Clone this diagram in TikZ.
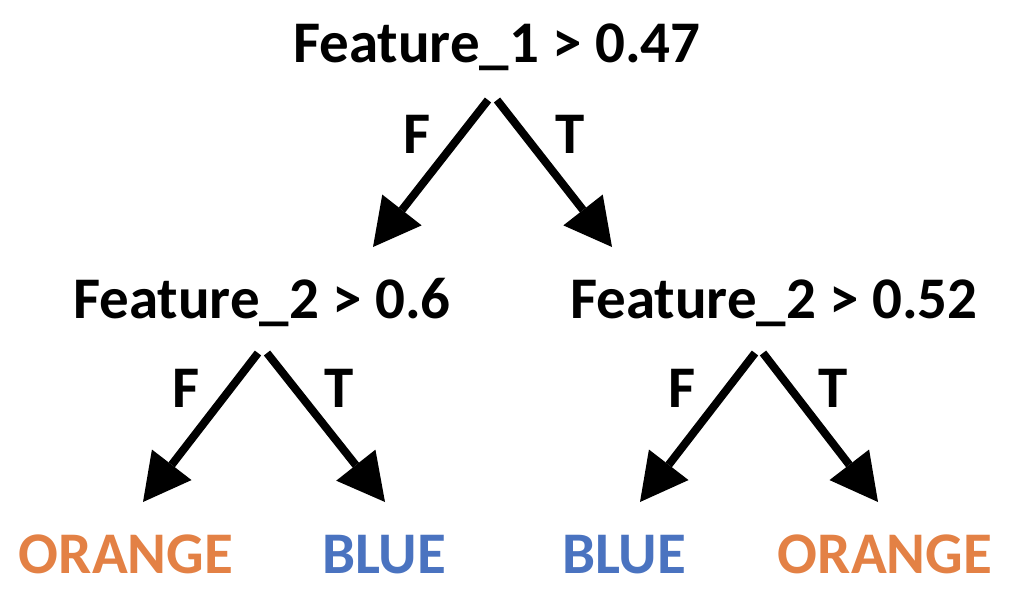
\documentclass[tikz,border=0pt]{standalone}
\usepackage{fontspec}
\setmainfont{Carlito}
\usetikzlibrary{arrows.meta}
\definecolor{leaforange}{HTML}{E38145}
\definecolor{leafblue}{HTML}{4A73C0}
\begin{document}
\begin{tikzpicture}[x=1pt,y=-1pt,
  lbl/.style={inner sep=0pt,anchor=base,font=\fontsize{59}{70}\selectfont\bfseries},
  edge/.style={line width=8pt,-{Triangle[length=47pt,width=50pt,line width=0pt]}},
  orangeleaf/.style={lbl,text=leaforange},
  blueleaf/.style={lbl,text=leafblue}]
\useasboundingbox (0,0) rectangle (1022,600);
% nodes
\node[lbl] (root) at (497,62) {Feature\_1 > 0.47};
\node[lbl] (n1) at (262,318) {Feature\_2 > 0.6};
\node[lbl] (n2) at (774,318) {Feature\_2 > 0.52};
\node[orangeleaf] (l1) at (126,573) {ORANGE};
\node[blueleaf] (l2) at (384,573) {BLUE};
\node[blueleaf] (l3) at (624,573) {BLUE};
\node[orangeleaf] (l4) at (885,573) {ORANGE};
% edge labels
\node[lbl] (f0) at (417,153) {F};
\node[lbl] (t0) at (570,153) {T};
\node[lbl] (f1) at (186,407) {F};
\node[lbl] (t1) at (339,407) {T};
\node[lbl] (f2) at (682,407) {F};
\node[lbl] (t2) at (833,407) {T};
% connector ends
\coordinate (r-s1) at (488,100);
\coordinate (r-s2) at (497,100);
\coordinate (n1-in) at (373,247);
\coordinate (n2-in) at (612,247);
\coordinate (n1-s1) at (258,353);
\coordinate (n1-s2) at (267,353);
\coordinate (l1-in) at (143,502);
\coordinate (l2-in) at (385,502);
\coordinate (n2-s1) at (755,353);
\coordinate (n2-s2) at (763,353);
\coordinate (l3-in) at (640,502);
\coordinate (l4-in) at (878,502);
% connectors
\draw[edge] (r-s1) -- (n1-in);
\draw[edge] (r-s2) -- (n2-in);
\draw[edge] (n1-s1) -- (l1-in);
\draw[edge] (n1-s2) -- (l2-in);
\draw[edge] (n2-s1) -- (l3-in);
\draw[edge] (n2-s2) -- (l4-in);
\end{tikzpicture}
\end{document}
